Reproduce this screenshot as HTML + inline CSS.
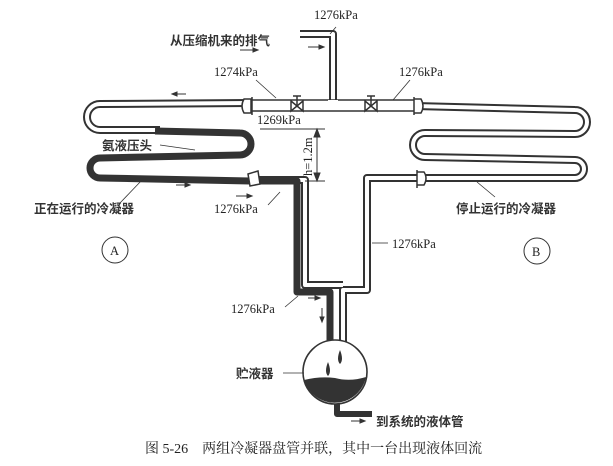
<!DOCTYPE html>
<html><head><meta charset="utf-8"><style>
body{margin:0;background:#fff;}
svg{display:block}
text{font-family:"Liberation Serif","Noto Serif CJK SC",serif;fill:#222;}
.c{font-family:"Liberation Sans","Noto Sans CJK SC",sans-serif;font-size:12.5px;font-weight:bold;fill:#333;}
.n{font-size:12.5px;}
</style></head><body>
<svg width="613" height="466" viewBox="0 0 613 466" xmlns="http://www.w3.org/2000/svg">
<g fill="none" stroke-linejoin="round" stroke-linecap="butt">
<g stroke="#333" stroke-width="8">
 <path d="M250 103 L100 104 A13 13 0 0 0 100 130 L160 130"/>
 <path d="M415 106 L575 110 A12 12 0 0 1 575 134 L425 133 A12 12 0 0 0 425 157 L575 160 A9 9 0 0 1 575 178 L418 178 L367 178 L367 290 L343 290 L343 342"/>
 <path d="M258 180 L305 180 L305 285 L343 285"/>
 <path d="M300 34 L333 34 L333 106"/>
</g>
<g stroke="#fff" stroke-width="4">
 <path d="M250 103 L100 104 A13 13 0 0 0 100 130 L160 130"/>
 <path d="M415 106 L575 110 A12 12 0 0 1 575 134 L425 133 A12 12 0 0 0 425 157 L575 160 A9 9 0 0 1 575 178 L418 178 L367 178 L367 290 L343 290 L343 342"/>
 <path d="M258 180 L305 180 L305 285 L343 285"/>
 <path d="M300 34 L333 34 L333 106"/>
</g>
<rect x="250" y="100" width="166" height="11" fill="#fff" stroke="#333" stroke-width="1.6"/>
<line x1="328" y1="101" x2="338" y2="101" stroke="#fff" stroke-width="2"/>
<path d="M155 131 L240 133 A11 11 0 0 1 240 155 L100 158 A10 10 0 0 0 100 178 L250 181 L297 181 L297 292 L330 292 L330 345" stroke="#333" stroke-width="7"/>
<path d="M337 402 L337 414 L372 414" stroke="#333" stroke-width="6"/>
</g>
<g fill="#fff" stroke="#333" stroke-width="1.5">
 <path d="M252 97 L252 115 M244 99 Q240 106 244 113 L251 113 L251 99 Z"/>
 <path d="M414 97 L414 115 M421 99 Q425 106 421 113 L414 113 L414 99 Z"/>
 <path d="M417 170 L417 188 M424 172 Q428 178 424 185 L417 185 L417 172 Z"/>
 <path d="M248 174 L258 171 L260 184 L250 186 Z" fill="#fff"/>
 <path d="M291 101 L303 111 L303 101 L291 111 Z"/>
 <line x1="297" y1="106" x2="297" y2="96"/><line x1="293" y1="96" x2="301" y2="96"/>
 <path d="M365 101 L377 111 L377 101 L365 111 Z"/>
 <line x1="371" y1="106" x2="371" y2="96"/><line x1="367" y1="96" x2="375" y2="96"/>
</g>
<circle cx="335" cy="372" r="32" fill="#fff" stroke="#333" stroke-width="1.6"/>
<path d="M304 380 Q320 376 335 378 Q350 382 366 377 A32 32 0 0 1 304 380 Z" fill="#333"/>
<path d="M340 350 Q336 360 340 364 Q344 360 340 350Z M328 362 Q324 372 328 376 Q332 372 328 362Z" fill="#333"/>
<g stroke="#333" stroke-width="1" fill="#333">
 <line x1="260" y1="129" x2="325" y2="129"/>
 <line x1="305" y1="181" x2="325" y2="181"/>
 <line x1="317" y1="131" x2="317" y2="179"/>
 <path d="M317 129 L314 137 L320 137Z M317 181 L314 173 L320 173Z"/>
</g>
<text class="n" transform="translate(312 176) rotate(-90)">h=1.2m</text>
<g stroke="#333" stroke-width="1" fill="#333">
 <line x1="240" y1="50" x2="258" y2="50"/><path d="M258 50 l-5 -2 v4z"/>
 <line x1="308" y1="47" x2="324" y2="47"/><path d="M324 47 l-5 -2 v4z"/>
 <line x1="172" y1="94" x2="186" y2="94"/><path d="M172 94 l5 -2 v4z"/>
 <line x1="176" y1="185" x2="190" y2="185"/><path d="M190 185 l-5 -2 v4z"/>
 <line x1="236" y1="196" x2="252" y2="196"/><path d="M252 196 l-5 -2 v4z"/>
 <line x1="308" y1="298" x2="320" y2="298"/><path d="M320 298 l-5 -2 v4z"/>
 <line x1="322" y1="308" x2="322" y2="322"/><path d="M322 322 l-2 -5 h4z"/>
 <line x1="351" y1="421" x2="365" y2="421"/><path d="M365 421 l-5 -2 v4z"/>
</g>
<g stroke="#333" stroke-width="0.8">
 <line x1="336" y1="27" x2="330" y2="34"/>
 <line x1="256" y1="80" x2="276" y2="98"/>
 <line x1="410" y1="80" x2="393" y2="100"/>
 <line x1="160" y1="145" x2="195" y2="150"/>
 <line x1="120" y1="203" x2="142" y2="180"/>
 <line x1="268" y1="205" x2="280" y2="192"/>
 <line x1="495" y1="197" x2="477" y2="182"/>
 <line x1="372" y1="243" x2="388" y2="243"/>
 <line x1="285" y1="307" x2="298" y2="296"/>
 <line x1="283" y1="373" x2="304" y2="373"/>
</g>
<circle cx="115" cy="250" r="13" fill="none" stroke="#333"/>
<text class="n" x="110" y="255">A</text>
<circle cx="537" cy="251" r="13" fill="none" stroke="#333"/>
<text class="n" x="532" y="256">B</text>
<text class="n" x="314" y="19">1276kPa</text>
<text class="c" x="170" y="45">从压缩机来的排气</text>
<text class="n" x="214" y="76">1274kPa</text>
<text class="n" x="399" y="76">1276kPa</text>
<text class="n" x="257" y="124">1269kPa</text>
<text class="c" x="102" y="150">氨液压头</text>
<text class="c" x="34" y="213">正在运行的冷凝器</text>
<text class="n" x="214" y="213">1276kPa</text>
<text class="c" x="456" y="213">停止运行的冷凝器</text>
<text class="n" x="392" y="248">1276kPa</text>
<text class="n" x="231" y="313">1276kPa</text>
<text class="c" x="236" y="378">贮液器</text>
<text class="c" x="376" y="426">到系统的液体管</text>
<text x="145" y="453" style="font-size:14px">图 5-26　两组冷凝器盘管并联，其中一台出现液体回流</text>
</svg>
</body></html>
